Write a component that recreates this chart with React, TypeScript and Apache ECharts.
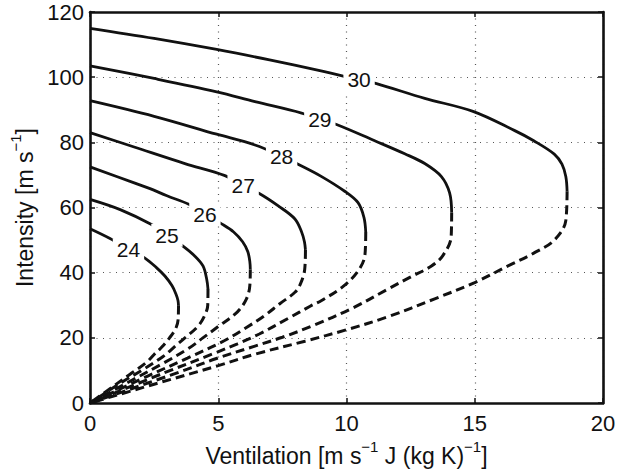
import React, { useEffect, useRef } from "react";
import * as echarts from "echarts";

// Contour levels and label anchor points [ventilation, intensity]
const levels = [24, 25, 26, 27, 28, 29, 30];
const labelPos = [
  [1.5, 47],
  [3.0, 51.5],
  [4.48, 58],
  [5.97, 66.7],
  [7.47, 75.6],
  [8.96, 87],
  [10.49, 99.2],
];

// Upper (solid) branches
const upper24 = [[0, 53.5], [0.78, 50.5], [1.5, 47.2], [2.14, 44.5], [2.6, 41.5], [2.92, 39], [3.2, 36], [3.35, 33.5], [3.43, 31.5], [3.45, 30]];
const upper25 = [[0, 62.5], [1.2, 59.3], [2.34, 55], [2.99, 51.6], [3.6, 48.3], [4.1, 45], [4.41, 42], [4.55, 38], [4.6, 35]];
const upper26 = [[0, 72.5], [1.75, 67.5], [2.34, 65.8], [3.0, 63.6], [3.85, 61], [4.48, 58], [5.13, 55], [5.6, 52.5], [5.95, 49.5], [6.15, 46.5], [6.23, 43.5], [6.25, 41]];
const upper27 = [[0, 83], [1.75, 78.5], [3.7, 73.5], [5.26, 69.8], [5.97, 66.7], [6.6, 64.3], [7.34, 60.5], [7.99, 56.5], [8.25, 52.5], [8.36, 49.5], [8.4, 47]];
const upper28 = [[0, 92.8], [2.5, 88], [4.94, 82.5], [6.43, 79.2], [7.47, 75.8], [8.11, 73.3], [9.03, 69.5], [9.93, 65], [10.45, 61.5], [10.68, 57], [10.75, 52.5]];
const upper29 = [[0, 103.5], [2.5, 99.6], [4.94, 95.5], [6.43, 92.5], [8.25, 89], [8.96, 87], [9.61, 85.5], [11.1, 80.5], [12.27, 76.5], [13.05, 73.5], [13.7, 69.5], [14.02, 64.5], [14.1, 58.5]];
const upper30 = [[0, 115], [2.5, 111.9], [4.94, 108.5], [7, 105.3], [8.96, 102], [10.49, 99.2], [11.17, 98], [13.05, 93.5], [14.93, 89.5], [16.56, 83.6], [17.3, 80.5], [18.1, 76.4], [18.4, 73.3], [18.55, 69.5], [18.6, 65]];

// Lower (dashed) branches
const lower24 = [[3.45, 30], [3.44, 26], [3.35, 23], [3.1, 20], [2.8, 17.2], [2.5, 14.9], [2.2, 12.5], [1.55, 8.8], [0.95, 5.4], [0, 0]];
const lower25 = [[4.6, 35], [4.59, 30], [4.45, 26.5], [4.2, 23.5], [3.7, 20], [3.3, 17.3], [2.85, 14.3], [2.05, 10.2], [1.2, 6.2], [0, 0]];
const lower26 = [[6.25, 41], [6.23, 36], [6.1, 32], [5.75, 28], [5.0, 23.5], [4.4, 20], [3.85, 16.8], [2.8, 12], [1.7, 7.3], [0, 0]];
const lower27 = [[8.4, 47], [8.37, 41], [8.2, 36.5], [7.99, 34], [7.4, 30.5], [6.8, 26.8], [6.1, 23.2], [5.25, 19.2], [3.8, 13.8], [2.25, 8.3], [0, 0]];
const lower28 = [[10.75, 52.5], [10.72, 45.5], [10.45, 40.5], [9.87, 35.8], [9.03, 31.5], [8.6, 29.8], [7.73, 26], [6.6, 21.2], [5.75, 18.2], [4.85, 15.3], [2.9, 9.3], [0, 0]];
const lower29 = [[14.1, 58.5], [14.08, 51], [13.75, 45.2], [13.3, 42], [12.45, 38.5], [11.62, 35], [10.2, 29], [8.7, 23.8], [7.5, 20.2], [6.43, 17.5], [4.9, 13.6], [3.8, 10.4], [0, 0]];
const lower30 = [[18.6, 65], [18.55, 56], [18.1, 50], [17.3, 46], [16.4, 42.5], [15, 37], [13.44, 32], [11.62, 26.5], [10, 22.5], [8.38, 19], [6.43, 15], [5, 11.5], [2.5, 5.8], [0, 0]];

const uppers = [upper24, upper25, upper26, upper27, upper28, upper29, upper30];
const lowers = [lower24, lower25, lower26, lower27, lower28, lower29, lower30];

const xTicks = { min: 0, max: 20, interval: 5 };
const yTicks = { min: 0, max: 120, interval: 20 };

const FONT = "'Liberation Sans', Arial, Helvetica, sans-serif";
const INK = "#111111";

export default function App() {
  const ref = useRef<HTMLDivElement>(null);
  useEffect(() => {
    if (!ref.current) return;
    const chart = echarts.init(ref.current, null, { renderer: "svg" });

    const series: any[] = [];
    levels.forEach((lv, i) => {
      series.push({
        type: "line",
        name: `upper${lv}`,
        data: uppers[i],
        showSymbol: false,
        symbol: "none",
        smooth: 0.35,
        lineStyle: { color: INK, width: 2.8, type: "solid" },
        z: 2,
      });
      series.push({
        type: "line",
        name: `lower${lv}`,
        data: lowers[i],
        showSymbol: false,
        symbol: "none",
        smooth: 0.35,
        lineStyle: { color: INK, width: 3, type: [9, 5] },
        z: 2,
      });
    });
    series.push({
      type: "scatter",
      data: labelPos.map((p, i) => ({ value: p, name: String(levels[i]) })),
      symbolSize: 0,
      itemStyle: { color: "#ffffff", opacity: 1 },
      z: 10,
      label: {
        show: true,
        position: "inside",
        formatter: (p: any) => p.name,
        fontFamily: FONT,
        fontSize: 21,
        color: "#111111",
        opacity: 1,
        textBorderWidth: 0,
        backgroundColor: "#ffffff",
        padding: [2, 4, 0, 4],
      },
    });

    const axisLine = { show: true, onZero: false, lineStyle: { color: INK, width: 2.6 } };
    const axisTick = { show: true, inside: true, length: 5, lineStyle: { color: INK, width: 1.5 } };
    const splitLine = { show: true, lineStyle: { color: "#555", width: 1.2, type: [1, 5.5] } };
    const rich = {
      a: { fontFamily: FONT, fontSize: 23, color: INK, lineHeight: 28, verticalAlign: "bottom" },
      s: { fontFamily: FONT, fontSize: 15, color: INK, verticalAlign: "top", lineHeight: 28 },
    };

    chart.setOption({
      animation: false,
      grid: { left: 90, right: 23, top: 12, bottom: 60 },
      xAxis: [
        {
          type: "value",
          ...xTicks,
          position: "bottom",
          axisLine,
          axisTick,
          splitLine,
          axisLabel: { fontFamily: FONT, fontSize: 22, color: INK, margin: 9 },
          name: "{a|Ventilation [m s}{s|−1}{a| J (kg K)}{s|−1}{a|]}",
          nameLocation: "middle",
          nameGap: 33,
          nameTextStyle: { rich },
        },
        {
          type: "value",
          ...xTicks,
          position: "top",
          axisLine,
          axisTick,
          splitLine: { show: false },
          axisLabel: { show: false },
        },
      ],
      yAxis: [
        {
          type: "value",
          ...yTicks,
          position: "left",
          axisLine,
          axisTick,
          splitLine,
          axisLabel: { fontFamily: FONT, fontSize: 22, color: INK, margin: 6 },
          name: "{a|Intensity [m s}{s|−1}{a|]}",
          nameLocation: "middle",
          nameGap: 49,
          nameTextStyle: { rich },
        },
        {
          type: "value",
          ...yTicks,
          position: "right",
          axisLine,
          axisTick,
          splitLine: { show: false },
          axisLabel: { show: false },
        },
      ],
      series,
    });
    return () => chart.dispose();
  }, []);

  return (
    <div
      ref={ref}
      style={{ position: "absolute", left: 0, top: 0, width: 626, height: 472, background: "#fff" }}
    />
  );
}
